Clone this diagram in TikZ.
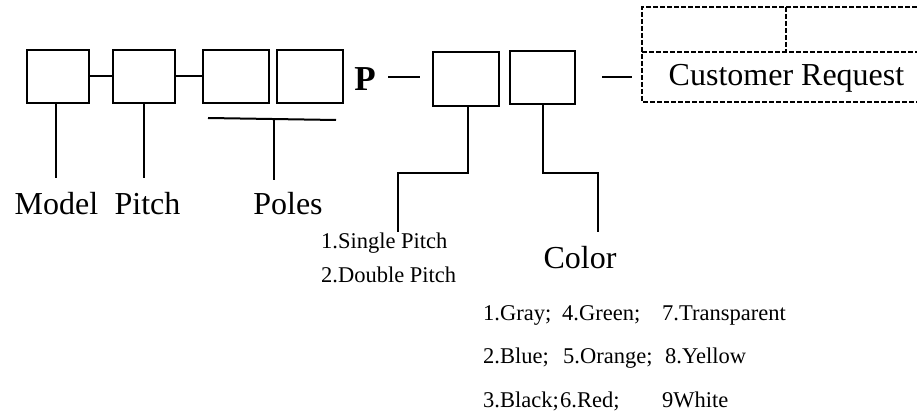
\documentclass[tikz,border=0pt]{standalone}
\usepackage{fontspec}
\setmainfont{Liberation Serif}
\begin{document}
\begin{tikzpicture}[x=1pt,y=-1pt,
  cell/.style={draw,line width=2pt,minimum height=53pt,inner sep=0pt},
  conn/.style={line width=2pt},
  dbox/.style={line width=2pt,dash pattern=on 5pt off 2pt},
  big/.style={inner sep=0pt,anchor=base,font=\fontsize{32}{36}\selectfont},
  small/.style={inner sep=0pt,anchor=base west,font=\fontsize{22.5}{26}\selectfont}]
\useasboundingbox (0,0) rectangle (917,411);
% boxes
\node[cell,minimum width=62pt] (b1) at (58,76.5) {};
\node[cell,minimum width=62pt] (b2) at (144,76.5) {};
\node[cell,minimum width=66pt] (b3) at (236,76.5) {};
\node[cell,minimum width=66pt] (b4) at (310,76.5) {};
\node[cell,minimum width=66pt,minimum height=54pt] (b5) at (466,79) {};
\node[cell,minimum width=65pt] (b6) at (542.5,77.5) {};
\node[inner sep=0pt,anchor=base,font=\fontsize{35}{40}\selectfont\bfseries] (p) at (365,91) {P};
% connectors between boxes
\draw[conn] (b1.east) -- (b2.west);
\draw[conn] (b2.east) -- (b3.west);
\coordinate (pa) at (388,77); \coordinate (pb) at (420,77);
\draw[conn] (pa) -- (pb);
\coordinate (ca) at (602,77); \coordinate (cb) at (632,77);
\draw[conn] (ca) -- (cb);
% dashed customer box
\coordinate (d1) at (642,7); \coordinate (d2) at (917,7);
\coordinate (d3) at (642,52); \coordinate (d4) at (917,52);
\coordinate (d5) at (642,102); \coordinate (d6) at (917,102);
\coordinate (dm) at (786,7); \coordinate (dn) at (786,52);
\draw[dbox] (d2) -- (d1) -- (d5) -- (d6);
\draw[dbox] (d3) -- (d4);
\draw[dbox] (dm) -- (dn);
\node[big] (cr) at (786.5,86) {Customer Request};
% leader lines
\coordinate (m1) at (56,103); \coordinate (m2) at (56,178);
\draw[conn] (m1) -- (m2);
\coordinate (t1) at (144,103); \coordinate (t2) at (144,178);
\draw[conn] (t1) -- (t2);
\coordinate (pl) at (208,118); \coordinate (pr) at (336,120);
\coordinate (pt) at (274,118.5); \coordinate (pd) at (274,180);
\draw[conn] (pl) -- (pr);
\draw[conn] (pt) -- (pd);
\coordinate (s1) at (468,106); \coordinate (s2) at (468,173);
\coordinate (s3) at (398,173); \coordinate (s4) at (398,232);
\draw[conn] (s1) -- (s2) -- (s3) -- (s4);
\coordinate (c1) at (543,104); \coordinate (c2) at (543,173);
\coordinate (c3) at (598,173); \coordinate (c4) at (598,232);
\draw[conn] (c1) -- (c2) -- (c3) -- (c4);
% labels
\node[big] (lm) at (56.5,215) {Model};
\node[big] (lp) at (147.5,215) {Pitch};
\node[big] (lo) at (288,215) {Poles};
\node[big] (lc) at (580,269) {Color};
\node[small] (sp1) at (321,249) {1.Single Pitch};
\node[small] (sp2) at (321,283) {2.Double Pitch};
\node[small] (k1) at (483,320) {\makebox[79pt][l]{1.Gray;}\makebox[100pt][l]{4.Green;}7.Transparent};
\node[small] (k2) at (483,363) {\makebox[80pt][l]{2.Blue;}\makebox[102pt][l]{5.Orange;}8.Yellow};
\node[small] (k3) at (483,407) {\makebox[77pt][l]{3.Black;}\makebox[102pt][l]{6.Red;}9White};
\end{tikzpicture}
\end{document}
